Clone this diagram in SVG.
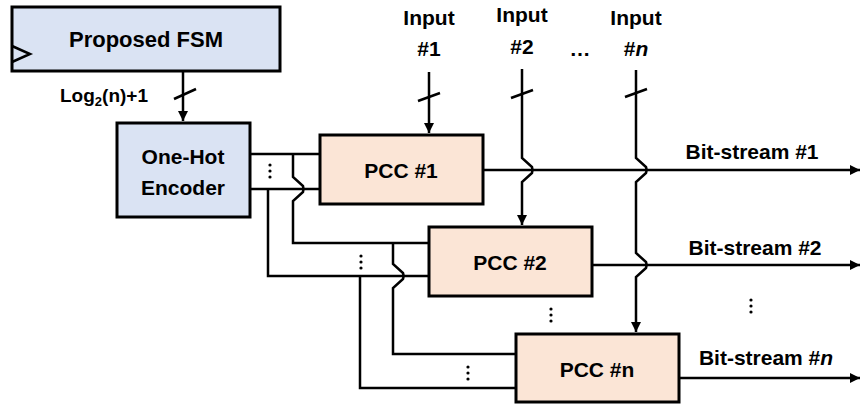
<svg xmlns="http://www.w3.org/2000/svg" width="862" height="404" viewBox="0 0 862 404">
<style>
.blk{fill:#dae3f3;stroke:#000;stroke-width:3}
.pcc{fill:#fbe5d6;stroke:#000;stroke-width:3}
.w{fill:none;stroke:#000;stroke-width:2.5;stroke-linejoin:miter}
.t{font-family:"Liberation Sans",Arial,sans-serif;font-weight:bold;font-size:21px;fill:#000;text-anchor:middle}
.big{font-size:22px}
.lg{font-size:19px;text-anchor:start}
.dot{fill:#000}
</style>
<defs>
<marker id="ah" viewBox="0 0 10 10" refX="10" refY="5" markerWidth="4" markerHeight="4" orient="auto" markerUnits="strokeWidth">
<path d="M0,0 L10,5 L0,10 z" fill="#000"/>
</marker>
<g id="vdots"><circle cx="0" cy="-6" r="1.6"/><circle cx="0" cy="0" r="1.6"/><circle cx="0" cy="6" r="1.6"/></g>
</defs>

<g id="fsm">
<rect class="blk" x="12" y="7" width="268" height="64"/>
<path class="w" d="M12,46 L30,54 L12,62"/>
<text class="t big" x="146" y="47">Proposed FSM</text>
</g>

<g id="encoder">
<rect class="blk" x="117" y="123" width="133" height="94"/>
<text class="t" x="183" y="164">One-Hot</text>
<text class="t" x="183" y="195">Encoder</text>
</g>

<g id="pcc1">
<rect class="pcc" x="320" y="135" width="163" height="69"/>
<text class="t" x="401" y="178">PCC #1</text>
</g>

<g id="pcc2">
<rect class="pcc" x="429" y="227" width="163" height="69"/>
<text class="t" x="510" y="270">PCC #2</text>
</g>

<g id="pccn">
<rect class="pcc" x="516" y="334" width="163" height="68"/>
<text class="t" x="597" y="377">PCC #n</text>
</g>

<g id="labels">
<text class="t lg" x="60" y="102">Log<tspan style="font-size:13px" dy="4">2</tspan><tspan dy="-4">(n)+1</tspan></text>
<text class="t" x="429" y="25">Input</text>
<text class="t" x="429" y="56">#1</text>
<text class="t" x="522" y="22">Input</text>
<text class="t" x="522" y="54">#2</text>
<text class="t" x="636" y="25">Input</text>
<text class="t" x="636" y="56">#<tspan font-style="italic">n</tspan></text>
<text class="t" x="580" y="56">…</text>
<text class="t" x="752" y="159">Bit-stream #1</text>
<text class="t" x="755" y="255">Bit-stream #2</text>
<text class="t" x="766" y="365">Bit-stream #<tspan font-style="italic">n</tspan></text>
<g class="dot">
<use href="#vdots" x="270" y="171"/>
<use href="#vdots" x="361" y="262"/>
<use href="#vdots" x="468" y="373"/>
<use href="#vdots" x="551" y="315"/>
<use href="#vdots" x="751" y="306"/>
</g>
</g>

<g id="connectors">
<path class="w" d="M183,71 V121" marker-end="url(#ah)"/>
<path class="w" d="M174,99 L196,89"/>
<path class="w" d="M429,72 V133" marker-end="url(#ah)"/>
<path class="w" d="M418,101 L440,93"/>
<path class="w" d="M522,69 V158 L532,167 Q533,170 532,173 L522,182 V225" marker-end="url(#ah)"/>
<path class="w" d="M511,98 L533,90"/>
<path class="w" d="M636,70 V158 L646,167 Q647,170 646,173 L636,182 V253 L646,262 Q647,265 646,268 L636,277 V332" marker-end="url(#ah)"/>
<path class="w" d="M625,97 L647,89"/>
<path class="w" d="M483,170 H860" marker-end="url(#ah)"/>
<path class="w" d="M592,265 H860" marker-end="url(#ah)"/>
<path class="w" d="M679,378 H860" marker-end="url(#ah)"/>
<path class="w" d="M250,154 H320"/>
<path class="w" d="M250,189 H320"/>
<path class="w" d="M293,154 V177 L303,186 Q304,189 303,192 L293,201 V243 H429"/>
<path class="w" d="M268,189 V276 H429"/>
<path class="w" d="M393,243 V264 L403,273 Q404,276 403,279 L393,288 V354 H516"/>
<path class="w" d="M360,276 V388 H516"/>
</g>
</svg>
